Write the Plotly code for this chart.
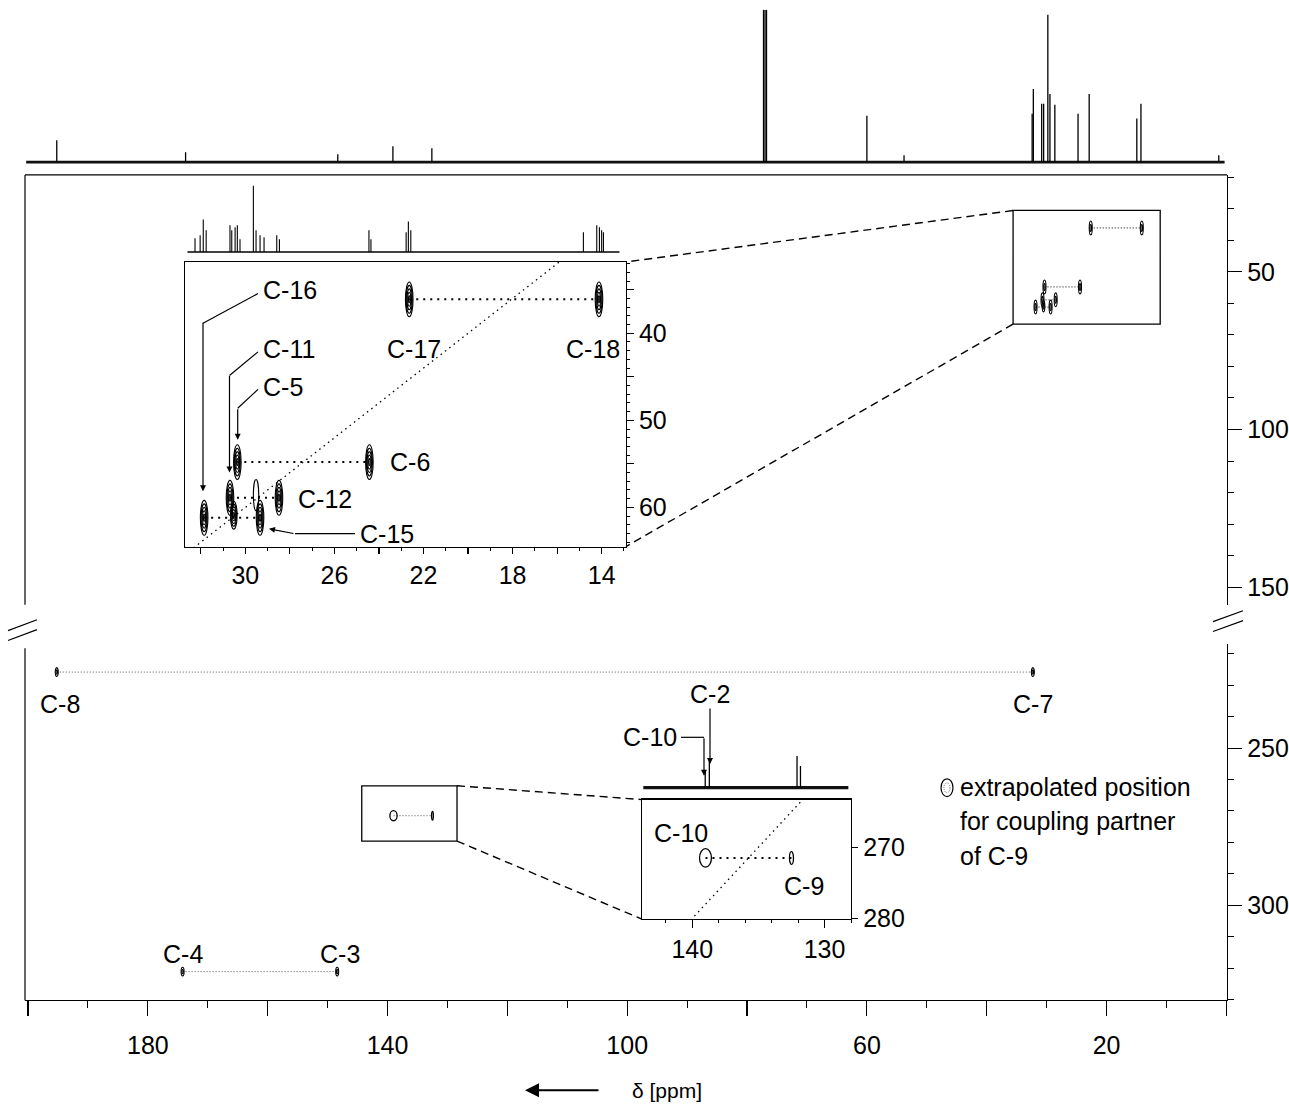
import plotly.graph_objects as go

W, H = 1289, 1116
FONT = "Liberation Sans, Arial, Helvetica, sans-serif"


def X(px):
    return px / W


def Y(py):
    return 1 - py / H


# ---------------- data ----------------
# 1D 13C spectrum on top of the 2D map (peak positions / relative heights)
top_ppm = [195.2, 173.7, 148.3, 139.1, 132.6, 77.25, 77.0, 76.75, 60.0, 53.8,
           32.42, 32.22, 30.83, 30.50, 29.80, 29.45, 28.63, 24.76, 22.90,
           14.95, 14.26, 1.27]
top_int = [22, 10, 8, 16, 14, 154, 154, 154, 47, 7,
           49, 74, 59, 59, 149, 69, 58, 49, 69,
           44, 59, 7]

# 1D trace above the aliphatic expansion
ali_ppm = [32.26, 32.03, 31.89, 31.76, 30.69, 30.61, 30.46, 30.36, 30.24,
           29.64, 29.52, 29.34, 29.16, 28.59, 28.47, 24.45, 24.36,
           22.78, 22.68, 22.57, 14.82, 14.22, 14.10, 14.00, 13.92]
ali_int = [14, 17, 33, 22, 27, 22, 25, 27, 13,
           67, 22, 17, 15, 17, 13, 22, 13,
           20, 31, 22, 20, 27, 25, 22, 20]

# 1D trace above the olefinic expansion
ole_ppm = [139.02, 138.71, 132.08, 131.82]
ole_int = [17, 30, 32, 22]

# aliphatic cross-peak pairs (carbon A, carbon B, double-quantum frequency)
pair_a_name = ["C-17", "C-5", "C-11", "C-16"]
pair_a_ppm = [22.64, 30.36, 30.69, 31.85]
pair_b_name = ["C-18", "C-6", "C-12", "C-15"]
pair_b_ppm = [14.12, 24.43, 28.49, 29.34]
pair_dq = [36.1, 54.8, 58.9, 61.2]
# further (unlabelled) aliphatic cross peak and a weak open contour
extra_ppm = [30.52]
extra_dq = [60.9]
weak_ppm = [29.52]
weak_dq = [58.6]

# long-range region pairs
far_a_name = ["C-8", "C-4"]
far_a_ppm = [195.2, 174.2]
far_b_name = ["C-7", "C-3"]
far_b_ppm = [32.3, 148.4]
far_dq = [225.8, 321.1]

# C-9 and extrapolated C-10 position
c10_ppm = 139.0
c9_ppm = 132.5
c9_dq = 271.5

# axis tick labels
main_x_ticks = list(range(0, 201, 20))
main_x_labels = [20, 60, 100, 140, 180]
ali_x_ticks = list(range(14, 33, 2))
ali_x_labels = [14, 18, 22, 26, 30]
ali_y_ticks = [35, 40, 45, 50, 55, 60]
ali_y_labels = [40, 50, 60]

# ---------------- figure ----------------
fig = go.Figure()
shapes = []
annos = []
FS = 25


def sticks(ppm, inten):
    xs, ys = [], []
    for p, h in zip(ppm, inten):
        xs += [p, p, None]
        ys += [0, h, None]
    return xs, ys


def line_trace(x, y, xa, ya, width=1.2, dash=None, color="black"):
    fig.add_trace(go.Scatter(x=x, y=y, xaxis=xa, yaxis=ya, mode="lines",
                             line=dict(color=color, width=width, dash=dash),
                             hoverinfo="skip", showlegend=False))


def blob(xref, yref, x, y, hw, hh, rings=(1.0, 0.8, 0.6, 0.4, 0.2), width=1.1, dash=None):
    for r in rings:
        shapes.append(dict(type="circle", xref=xref, yref=yref,
                           x0=x - hw * r, x1=x + hw * r,
                           y0=y - hh * r, y1=y + hh * r,
                           line=dict(color="black", width=width, dash=dash)))


# top 1D spectrum
xs, ys = sticks(top_ppm, top_int)
line_trace([200.3, 0.3], [0, 0], "x2", "y3", width=2.6, color="#111")
line_trace(xs, ys, "x2", "y3", width=1.3)

# aliphatic 1D
xs, ys = sticks(ali_ppm, ali_int)
line_trace([32.6, 13.2], [0, 0], "x4", "y5", width=1.5)
line_trace(xs, ys, "x4", "y5", width=1.1)

# olefinic 1D
xs, ys = sticks(ole_ppm, ole_int)
line_trace([143.7, 128.2], [0, 0], "x6", "y7", width=3.2, color="#111")
line_trace(xs, ys, "x6", "y7", width=1.3)

# ---- aliphatic expansion (inset 1) ----
r1 = [32.71, 12.92]
line_trace(r1, [2 * v for v in r1], "x3", "y4", width=1.3, dash="1.5px,4px")
for a, b, dq in zip(pair_a_ppm, pair_b_ppm, pair_dq):
    line_trace([a, b], [dq, dq], "x3", "y4", width=2, dash="2px,5px")
    blob("x3", "y4", a, dq, 0.17, 2.0)
    blob("x3", "y4", b, dq, 0.17, 2.0)
for a, dq in zip(extra_ppm, extra_dq):
    blob("x3", "y4", a, dq, 0.15, 1.6)
for a, dq in zip(weak_ppm, weak_dq):
    blob("x3", "y4", a, dq, 0.12, 1.8, rings=(1.0,))

# same peaks in the overview (upper box of main map)
for a, b, dq in zip(pair_a_ppm, pair_b_ppm, pair_dq):
    line_trace([a, b], [dq, dq], "x", "y", width=1, dash="1px,2px")
    blob("x", "y", a, dq, 0.25, 2.2, rings=(1.0, 0.5))
    blob("x", "y", b, dq, 0.25, 2.2, rings=(1.0, 0.5))
for a, dq in zip(extra_ppm, extra_dq):
    blob("x", "y", a, dq, 0.22, 1.8, rings=(1.0, 0.5))

# long-range pairs in main map (lower segment)
for a, b, dq in zip(far_a_ppm, far_b_ppm, far_dq):
    line_trace([a, b], [dq, dq], "x", "y2", width=1, dash="1px,2px", color="#555")
    blob("x", "y2", a, dq, 0.25, 1.4, rings=(1.0, 0.5))
    blob("x", "y2", b, dq, 0.25, 1.4, rings=(1.0, 0.5))

# C-9 / C-10 in main map and in inset 2
line_trace([c10_ppm, c9_ppm], [c9_dq, c9_dq], "x", "y2", width=1, dash="1px,2px", color="#555")
blob("x", "y2", c10_ppm, c9_dq, 0.6, 1.6, rings=(1.0,), width=1.3)
blob("x", "y2", c9_ppm, c9_dq, 0.15, 1.4, rings=(1.0,), width=1.3)

r2 = [143.8, 128.0]
line_trace(r2, [2 * v for v in r2], "x5", "y6", width=1.3, dash="1.5px,4px")
line_trace([c10_ppm, c9_ppm], [c9_dq, c9_dq], "x5", "y6", width=2, dash="2px,5px")
blob("x5", "y6", c10_ppm, c9_dq, 0.45, 1.3, rings=(1.0,), width=1.3)
blob("x5", "y6", c9_ppm, c9_dq, 0.15, 0.9, rings=(1.0,), width=1.3)

# ---------------- decorations ----------------
def pline(x0, y0, x1, y1, width=1.2, dash=None):
    shapes.append(dict(type="line", xref="paper", yref="paper",
                       x0=X(x0), y0=Y(y0), x1=X(x1), y1=Y(y1),
                       line=dict(color="black", width=width, dash=dash)))


# main frame (top & left, broken)
pline(25, 177, 1227, 177, width=1.2)
pline(25, 177, 25, 612, width=1.2)
pline(25, 656, 25, 1012, width=1.2)
# break marks
pline(8, 638, 37, 627, width=1.2)
pline(8, 648, 37, 637, width=1.2)
pline(1213, 629, 1243, 618, width=1.2)
pline(1213, 639, 1243, 628, width=1.2)

# zoom boxes on main map
shapes.append(dict(type="rect", xref="x", yref="y", x0=35.6, x1=11.05, y0=30.56, y1=66.6,
                   line=dict(color="black", width=1.3)))
shapes.append(dict(type="rect", xref="x", yref="y2", x0=144.3, x1=128.4, y0=262.0, y1=279.6,
                   line=dict(color="black", width=1.3)))
# dashed connectors
pline(1013, 213, 626, 265, width=1.4, dash="8px,5px")
pline(1013, 328, 626, 553, width=1.4, dash="8px,5px")
pline(457, 795, 642, 809, width=1.4, dash="8px,5px")
pline(457, 851, 642, 930, width=1.4, dash="8px,5px")

# legend ellipse
shapes.append(dict(type="circle", xref="paper", yref="paper",
                   x0=X(941), x1=X(953), y0=Y(806), y1=Y(788),
                   line=dict(color="black", width=1.2)))
shapes.append(dict(type="circle", xref="paper", yref="paper",
                   x0=X(944), x1=X(950), y0=Y(802), y1=Y(792),
                   line=dict(color="#777", width=1, dash="1px,1px")))


def label(px, py, s, anchor="center", size=FS):
    annos.append(dict(x=X(px), y=Y(py), xref="paper", yref="paper", text=s,
                      showarrow=False, xanchor=anchor, yanchor="middle",
                      font=dict(family=FONT, size=size, color="black")))


def arrow(px, py, ax, ay, size=1.0, width=1.2, head=2):
    annos.append(dict(x=X(px), y=Y(py), xref="paper", yref="paper", text="",
                      showarrow=True, ax=ax, ay=ay, axref="pixel", ayref="pixel",
                      arrowhead=head, arrowsize=size, arrowwidth=width,
                      arrowcolor="black", standoff=0, startstandoff=0))


# inset 1 labels and leaders
label(261, 293, "C-16", "left")
label(261, 353, "C-11", "left")
label(261, 392, "C-5", "left")
label(414, 353, "C-17")
label(593, 353, "C-18")
label(388, 467, "C-6", "left")
label(296, 505, "C-12", "left")
label(358, 540, "C-15", "left")
pline(258, 297, 203, 327)
arrow(203, 497, 0, -170)
pline(258, 356, 229.5, 380)
arrow(229.5, 478, 0, -98)
pline(258, 394, 237.7, 413)
arrow(237.7, 445, 0, -32)
pline(355, 540, 295, 540)
arrow(269, 535, 26, 5)

# main labels
label(60, 712, "C-8")
label(1033, 712, "C-7")
label(183, 965, "C-4")
label(340, 965, "C-3")
label(710, 702, "C-2")
arrow(710, 773, 0, -57)
label(679, 746, "C-10", "right")
pline(681, 746, 704, 746)
arrow(704, 785, 0, -39)
label(681, 843, "C-10")
label(804, 896, "C-9")
label(958, 796, "extrapolated position", "left")
label(958, 831, "for coupling partner", "left")
label(958, 866, "of C-9", "left")
label(630, 1103, "δ [ppm]", "left", size=21)
arrow(525, 1103, 75, 0, size=1.4, width=2.0)

# ---------------- axes ----------------
tickfont = dict(family=FONT, size=FS, color="black")
base = dict(showgrid=False, zeroline=False, showline=True, linecolor="black",
            linewidth=1.2, ticks="outside", tickcolor="black", tickwidth=1.2,
            tickfont=tickfont, fixedrange=True)
hidden = dict(visible=False, showgrid=False, zeroline=False, fixedrange=True)


def minor(dtick, length):
    return dict(tick0=0, dtick=dtick, ticklen=length, ticks="outside",
                tickcolor="black", tickwidth=1)


main_x_range = [200.5, -0.1]
ali_x_range = [32.71, 12.92]
ole_x_range = [143.8, 128.0]

fig.update_layout(
    width=W, height=H, margin=dict(l=0, r=0, t=0, b=0),
    paper_bgcolor="white", plot_bgcolor="rgba(0,0,0,0)",
    showlegend=False, shapes=shapes, annotations=annos,
    xaxis=dict(**base, domain=[X(25), X(1227)], range=main_x_range, anchor="y2",
               tickmode="array", tickvals=main_x_ticks,
               ticktext=[str(v) if v in main_x_labels else "" for v in main_x_ticks],
               ticklen=15, ticklabelstandoff=8, minor=minor(10, 7)),
    yaxis=dict(**base, domain=[Y(612), Y(177)], range=[155.6, 19.3], anchor="x",
               side="right", tickmode="array", tickvals=[50, 100, 150],
               ticklen=14, minor=minor(10, 6)),
    yaxis2=dict(**base, domain=[Y(1012), Y(652)], range=[330.2, 217.0], anchor="x",
                side="right", tickmode="array", tickvals=[250, 300],
                ticklen=14, minor=minor(10, 6)),
    xaxis2=dict(**hidden, domain=[X(25), X(1227)], range=main_x_range, anchor="y3"),
    yaxis3=dict(**hidden, domain=[Y(177), Y(0)], range=[-13, 164], anchor="x2"),
    xaxis3=dict(**base, domain=[X(185), X(625.7)], range=ali_x_range, anchor="y4",
                mirror=True, tickmode="array", tickvals=ali_x_ticks,
                ticktext=[str(v) if v in ali_x_labels else "" for v in ali_x_ticks],
                ticklen=6, minor=minor(1, 3)),
    yaxis4=dict(**base, domain=[Y(553), Y(265)], range=[64.5, 31.8], anchor="x3",
                side="right", mirror=True, tickmode="array", tickvals=ali_y_ticks,
                ticktext=[str(v) if v in ali_y_labels else "" for v in ali_y_ticks],
                ticklen=7, minor=minor(1, 3)),
    xaxis4=dict(**hidden, domain=[X(185), X(625.7)], range=ali_x_range, anchor="y5"),
    yaxis5=dict(**hidden, domain=[Y(262), Y(180)], range=[-7, 75], anchor="x4"),
    xaxis5=dict(**base, domain=[X(642), X(851)], range=ole_x_range, anchor="y6",
                mirror=True, tickmode="array", tickvals=[140, 130],
                ticklen=8, minor=minor(2, 3)),
    yaxis6=dict(**base, domain=[Y(930), Y(809)], range=[280.1, 263.3], anchor="x5",
                side="right", mirror=True, tickmode="array", tickvals=[270, 280],
                ticklen=6),
    xaxis6=dict(**hidden, domain=[X(642), X(851)], range=ole_x_range, anchor="y7"),
    yaxis7=dict(**hidden, domain=[Y(806), Y(755)], range=[-9, 42], anchor="x6"),
)

fig.write_html("out.html", config={"displayModeBar": False, "staticPlot": True},
               post_script="document.body.style.margin='0';document.body.style.overflow='hidden';")
